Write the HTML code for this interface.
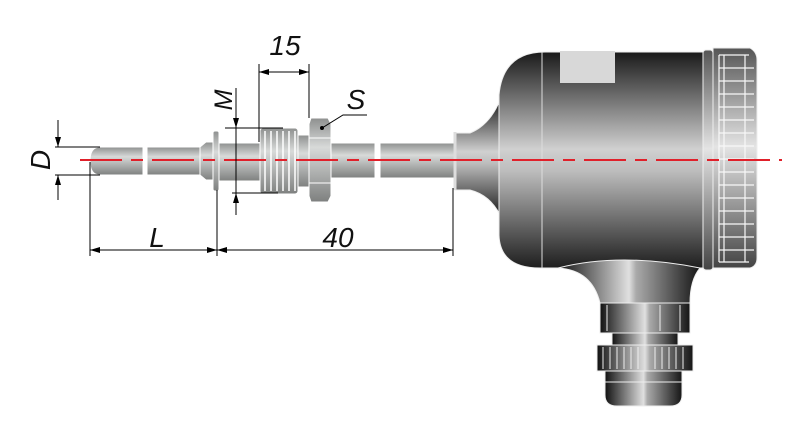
<!DOCTYPE html>
<html><head><meta charset="utf-8"><style>
html,body{margin:0;padding:0;background:#fff;width:800px;height:434px;overflow:hidden}
text{font-family:"Liberation Sans",sans-serif;font-style:italic;fill:#111}
</style></head><body>
<svg width="800" height="434" viewBox="0 0 800 434" xmlns="http://www.w3.org/2000/svg">
<defs>
<linearGradient id="tube" x1="0" y1="0" x2="0" y2="1">
<stop offset="0" stop-color="#8e908f"/><stop offset="0.35" stop-color="#d8dad9"/><stop offset="0.6" stop-color="#b5b7b6"/><stop offset="1" stop-color="#7e807f"/></linearGradient>
<linearGradient id="head" x1="0" y1="0" x2="0" y2="1">
<stop offset="0" stop-color="#1a1a1a"/><stop offset="0.45" stop-color="#d0d0d0"/><stop offset="0.55" stop-color="#bdbdbd"/><stop offset="1" stop-color="#1e1e1e"/></linearGradient>
<linearGradient id="vert" x1="0" y1="0" x2="1" y2="0">
<stop offset="0" stop-color="#111"/><stop offset="0.5" stop-color="#e0e0e0"/><stop offset="0.55" stop-color="#aaa"/><stop offset="1" stop-color="#151515"/></linearGradient>
<linearGradient id="fin" x1="0" y1="0" x2="0" y2="1">
<stop offset="0" stop-color="#555"/><stop offset="0.45" stop-color="#e4e4e4"/><stop offset="1" stop-color="#444"/></linearGradient>
<marker id="ar" viewBox="0 0 10 6" refX="10" refY="3" markerWidth="10" markerHeight="6" orient="auto-start-reverse" markerUnits="userSpaceOnUse"><path d="M0,0L10,3L0,6z" fill="#000"/></marker>
</defs>

<!-- probe -->
<g stroke="#fff" stroke-width="1">
<path d="M100,147 H143 V175 H100 Q90,175 90,161 Q90,147 100,147z" fill="url(#tube)"/>
<rect x="147" y="147" width="53" height="28" fill="url(#tube)"/>
<path d="M200,147 L206,142 H214 V180 H206 L200,175z" fill="url(#tube)"/>
<rect x="213" y="131" width="6" height="60" rx="2" fill="url(#tube)"/>
<rect x="219" y="143" width="41" height="38" fill="url(#tube)"/>
<rect x="296" y="135" width="14" height="52" fill="url(#tube)"/>
<rect x="330" y="143" width="45" height="35" fill="url(#tube)"/>
<rect x="380" y="143" width="75" height="35" fill="url(#tube)"/>
<rect x="260" y="128" width="38" height="66" rx="3" fill="url(#tube)"/>
</g>
<g stroke="#fff" stroke-width="1.5" fill="none">
<path d="M265,131V191M271,131V191M277,131V191M283,131V191M289,131V191M295,131V191"/>
</g>
<g stroke="#fff" stroke-width="1">
<path d="M311,118 H328 L331,124 V196 L328,202 H311 L309,196 V124z" fill="url(#tube)"/>
<path d="M309,138 H331 M309,183 H331" fill="none"/>
</g>
<circle cx="322" cy="128" r="2" fill="#000"/>

<!-- head -->
<g stroke="#eee" stroke-width="1">
<path d="M455,133 H470 Q490,125 500,100 V215 Q490,195 470,190 H455z" fill="url(#head)"/>
<path d="M455,132 V190" stroke="#ddd" stroke-width="3"/>
<path d="M545,52 H707 V268 H540 Q500,268 499,235 V95 Q503,52 545,52z" fill="url(#head)"/>
<path d="M542,52 V268" fill="none" stroke="#ddd"/>
<rect x="703" y="50" width="10" height="220" rx="3" fill="url(#fin)"/>
<path d="M713,48 H750 Q757,52 757,60 V258 Q757,266 750,268 H713z" fill="url(#fin)"/>
</g>
<g stroke="#f8f8f8" stroke-width="1.2" fill="none">
<path d="M719,55h30M719,68h35M719,81h35M719,94h35M719,107h35M719,120h35M719,133h35M719,146h35M719,159h35M719,172h35M719,185h35M719,198h35M719,211h35M719,224h35M719,237h35M719,250h35M719,262h30"/>
<path d="M719,55V262M724,55V262M745,55V262"/>
</g>
<rect x="560" y="51" width="55" height="32" fill="#d8d8d8"/>
<g stroke="#eee" stroke-width="1">
<path d="M558,268 Q620,252 700,268 Q690,280 690,303 H600 Q592,270 558,268z" fill="url(#vert)"/>
<rect x="600" y="303" width="90" height="30" fill="url(#vert)"/>
<rect x="612" y="333" width="66" height="12" fill="url(#vert)"/>
<rect x="597" y="345" width="96" height="26" fill="url(#vert)"/>
<path d="M605,371 H682 V395 Q682,406 670,406 H617 Q605,406 605,395z" fill="url(#vert)"/>
</g>
<g stroke="#eee" stroke-width="1" fill="none">
<path d="M607,305V331M660,305V331M680,305V331M603,347V369M610,347V369M617,347V369M624,347V369M631,347V369M638,347V369M655,347V369M662,347V369M669,347V369M676,347V369M683,347V369M605,382H682"/>
</g>

<!-- centre line -->
<line x1="80" y1="160" x2="782" y2="160" stroke="#e0202a" stroke-width="2" stroke-dasharray="42 9 12 9"/>

<!-- dimensions -->
<g stroke="#000" stroke-width="1" fill="none">
<path d="M55,147H100M55,175H100M58,120V147M58,175V200"/>
<path d="M58,130V147" marker-end="url(#ar)"/><path d="M58,192V175" marker-end="url(#ar)"/>
<path d="M225,128H283M232,193H278M236,88V215"/>
<path d="M236,110V128" marker-end="url(#ar)"/><path d="M236,211V193" marker-end="url(#ar)"/>
<path d="M259,64V142M309,64V118"/>
<path d="M259,72H309" marker-start="url(#ar)" marker-end="url(#ar)"/>
<path d="M322,128L343,115H367"/>
<path d="M90,162V256M217,190V256M453,188V256"/>
<path d="M90,250H217" marker-start="url(#ar)" marker-end="url(#ar)"/>
<path d="M217,250H453" marker-start="url(#ar)" marker-end="url(#ar)"/>
</g>
<text x="285" y="55" font-size="28" text-anchor="middle">15</text>
<text x="356" y="109" font-size="28" text-anchor="middle">S</text>
<text x="157" y="247" font-size="28" text-anchor="middle">L</text>
<text x="338" y="247" font-size="28" text-anchor="middle">40</text>
<text transform="translate(50,160) rotate(-90)" font-size="28" text-anchor="middle">D</text>
<text transform="translate(232,100) rotate(-90)" font-size="25" text-anchor="middle">M</text>
</svg>
</body></html>
